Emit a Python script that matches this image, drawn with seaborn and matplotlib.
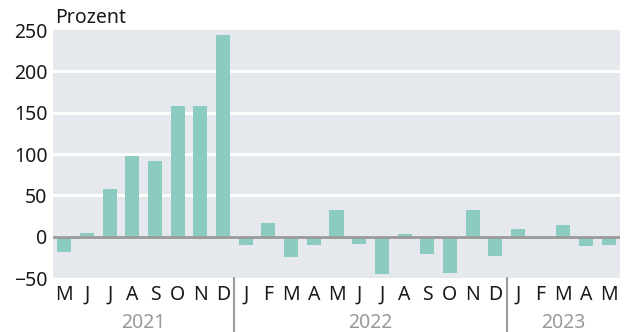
import matplotlib
matplotlib.use("Agg")
import matplotlib.pyplot as plt
import seaborn as sns
import pandas as pd

# Monatswerte (Veränderung in Prozent)
months = ["M", "J", "J", "A", "S", "O", "N", "D",
          "J", "F", "M", "A", "M", "J", "J", "A", "S", "O", "N", "D",
          "J", "F", "M", "A", "M"]
years = ["2021", "2022", "2023"]
year_counts = [8, 12, 5]
values = [-18, 4, 58, 97, 92, 158, 158, 244,
          -10, 17, -25, -10, 32, -9, -45, 3, -21, -44, 32, -23,
          9, 0, 14, -11, -10]

df = pd.DataFrame({"pos": range(len(values)), "value": values})

sns.set_theme(style="white")
plt.rcParams["font.family"] = ["Noto Sans", "DejaVu Sans"]

fig = plt.figure(figsize=(6.29, 3.32), dpi=100)
ax = fig.add_axes([53 / 629, (332 - 278) / 332, 567 / 629, 248 / 332])
ax.set_facecolor("#e5e9ed")

for y in [50, 100, 150, 200]:
    ax.axhline(y, color="white", lw=2, zorder=0)

sns.barplot(data=df, x="pos", y="value", color="#8ccbbf", width=0.62,
            saturation=1, linewidth=0, ax=ax, zorder=2)
ax.axhline(0, color="#9a9a9a", lw=2, zorder=3)

ax.set_ylim(-50, 250)
ax.set_xlim(-0.5, len(values) - 0.5)
ax.set_yticks([-50, 0, 50, 100, 150, 200, 250])
ax.set_yticklabels(["\u221250", "0", "50", "100", "150", "200", "250"])
ax.set_xticks(range(len(values)))
ax.set_xticklabels(months)
ax.tick_params(axis="both", length=0, labelsize=14, colors="#1a1a1a")
ax.tick_params(axis="x", pad=5)
ax.tick_params(axis="y", pad=4)
ax.set_xlabel("")
ax.set_ylabel("")
for s in ax.spines.values():
    s.set_visible(False)

fig.text(55 / 629, 1 - 18 / 332, "Prozent", fontsize=14, color="#1a1a1a",
         va="center", ha="left")

# Jahresbeschriftung und Trennlinien
start = 0
for i, (yr, n) in enumerate(zip(years, year_counts)):
    center = start + (n - 1) / 2
    ax.text(center, -0.183, yr, transform=ax.get_xaxis_transform(),
            ha="center", va="center", fontsize=14, color="#9a9a9a")
    if i > 0:
        ax.plot([start - 0.5, start - 0.5], [0, -0.23],
                transform=ax.get_xaxis_transform(), color="#9a9a9a",
                lw=1.5, clip_on=False)
    start += n

fig.savefig("out.png", dpi=100)
